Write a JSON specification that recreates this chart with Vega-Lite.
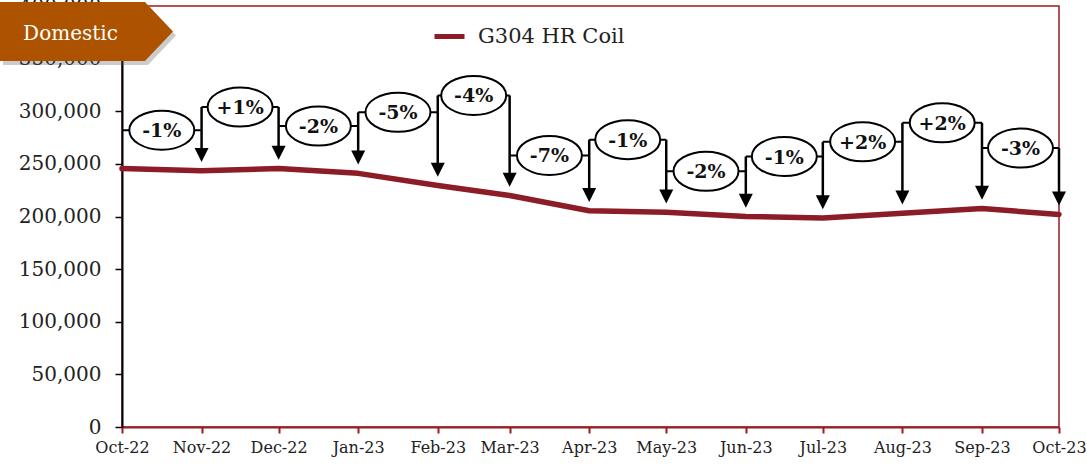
{
  "$schema": "https://vega.github.io/schema/vega-lite/v6.json",
  "autosize": {"type": "none"},
  "width": 937,
  "height": 421,
  "padding": {"left": 122, "top": 6, "right": 28, "bottom": 39},
  "background": "white",
  "config": {
    "view": {"stroke": "#9B1B22", "strokeWidth": 1.5},
    "font": "DejaVu Serif"
  },
  "datasets": {
    "series": [
      {"month": "2022-10-01T00:00:00Z", "value": 245500, "series": "G304 HR Coil"},
      {"month": "2022-11-01T00:00:00Z", "value": 243500, "series": "G304 HR Coil"},
      {"month": "2022-12-01T00:00:00Z", "value": 245500, "series": "G304 HR Coil"},
      {"month": "2023-01-01T00:00:00Z", "value": 241000, "series": "G304 HR Coil"},
      {"month": "2023-02-01T00:00:00Z", "value": 229500, "series": "G304 HR Coil"},
      {"month": "2023-03-01T00:00:00Z", "value": 220000, "series": "G304 HR Coil"},
      {"month": "2023-04-01T00:00:00Z", "value": 205500, "series": "G304 HR Coil"},
      {"month": "2023-05-01T00:00:00Z", "value": 204000, "series": "G304 HR Coil"},
      {"month": "2023-06-01T00:00:00Z", "value": 200000, "series": "G304 HR Coil"},
      {"month": "2023-07-01T00:00:00Z", "value": 198500, "series": "G304 HR Coil"},
      {"month": "2023-08-01T00:00:00Z", "value": 203000, "series": "G304 HR Coil"},
      {"month": "2023-09-01T00:00:00Z", "value": 207500, "series": "G304 HR Coil"},
      {"month": "2023-10-01T00:00:00Z", "value": 202000, "series": "G304 HR Coil"}
    ],
    "brackets": [
      {"start": "2022-10-01T00:00:00Z", "end": "2022-11-01T00:00:00Z", "mid": "2022-10-16T12:00:00Z", "level": 282000, "label": "-1%"},
      {"start": "2022-11-01T00:00:00Z", "end": "2022-12-01T00:00:00Z", "mid": "2022-11-16T00:00:00Z", "level": 304000, "label": "+1%"},
      {"start": "2022-12-01T00:00:00Z", "end": "2023-01-01T00:00:00Z", "mid": "2022-12-16T12:00:00Z", "level": 286000, "label": "-2%"},
      {"start": "2023-01-01T00:00:00Z", "end": "2023-02-01T00:00:00Z", "mid": "2023-01-16T12:00:00Z", "level": 299000, "label": "-5%"},
      {"start": "2023-02-01T00:00:00Z", "end": "2023-03-01T00:00:00Z", "mid": "2023-02-15T00:00:00Z", "level": 315000, "label": "-4%"},
      {"start": "2023-03-01T00:00:00Z", "end": "2023-04-01T00:00:00Z", "mid": "2023-03-16T12:00:00Z", "level": 258000, "label": "-7%"},
      {"start": "2023-04-01T00:00:00Z", "end": "2023-05-01T00:00:00Z", "mid": "2023-04-16T00:00:00Z", "level": 273000, "label": "-1%"},
      {"start": "2023-05-01T00:00:00Z", "end": "2023-06-01T00:00:00Z", "mid": "2023-05-16T12:00:00Z", "level": 243000, "label": "-2%"},
      {"start": "2023-06-01T00:00:00Z", "end": "2023-07-01T00:00:00Z", "mid": "2023-06-16T00:00:00Z", "level": 257000, "label": "-1%"},
      {"start": "2023-07-01T00:00:00Z", "end": "2023-08-01T00:00:00Z", "mid": "2023-07-16T12:00:00Z", "level": 271000, "label": "+2%"},
      {"start": "2023-08-01T00:00:00Z", "end": "2023-09-01T00:00:00Z", "mid": "2023-08-16T12:00:00Z", "level": 289000, "label": "+2%"},
      {"start": "2023-09-01T00:00:00Z", "end": "2023-10-01T00:00:00Z", "mid": "2023-09-16T00:00:00Z", "level": 265000, "label": "-3%"}
    ],
    "arrows": [
      {"month": "2022-11-01T00:00:00Z", "top": 304000, "head": 258500},
      {"month": "2022-12-01T00:00:00Z", "top": 304000, "head": 260500},
      {"month": "2023-01-01T00:00:00Z", "top": 299000, "head": 256000},
      {"month": "2023-02-01T00:00:00Z", "top": 315000, "head": 244500},
      {"month": "2023-03-01T00:00:00Z", "top": 315000, "head": 235000},
      {"month": "2023-04-01T00:00:00Z", "top": 273000, "head": 220500},
      {"month": "2023-05-01T00:00:00Z", "top": 273000, "head": 219000},
      {"month": "2023-06-01T00:00:00Z", "top": 257000, "head": 215000},
      {"month": "2023-07-01T00:00:00Z", "top": 271000, "head": 213500},
      {"month": "2023-08-01T00:00:00Z", "top": 289000, "head": 218000},
      {"month": "2023-09-01T00:00:00Z", "top": 289000, "head": 222500},
      {"month": "2023-10-01T00:00:00Z", "top": 265000, "head": 217000}
    ],
    "badge": [
      {"month": "2022-09-17T04:00:00Z", "value": 375700, "label": "Domestic"}
    ]
  },
  "layer": [
    {
      "data": {"name": "series"},
      "mark": {"type": "line", "strokeWidth": 5.5, "strokeCap": "round", "strokeJoin": "round"},
      "encoding": {
        "x": {
          "field": "month", "type": "temporal",
          "scale": {"type": "utc", "domain": [{"year": 2022, "month": 10, "date": 1, "utc": true}, {"year": 2023, "month": 10, "date": 1, "utc": true}], "nice": false},
          "axis": {
            "title": null,
            "values": [
              {"year": 2022, "month": 10, "date": 1, "utc": true},
              {"year": 2022, "month": 11, "date": 1, "utc": true},
              {"year": 2022, "month": 12, "date": 1, "utc": true},
              {"year": 2023, "month": 1, "date": 1, "utc": true},
              {"year": 2023, "month": 2, "date": 1, "utc": true},
              {"year": 2023, "month": 3, "date": 1, "utc": true},
              {"year": 2023, "month": 4, "date": 1, "utc": true},
              {"year": 2023, "month": 5, "date": 1, "utc": true},
              {"year": 2023, "month": 6, "date": 1, "utc": true},
              {"year": 2023, "month": 7, "date": 1, "utc": true},
              {"year": 2023, "month": 8, "date": 1, "utc": true},
              {"year": 2023, "month": 9, "date": 1, "utc": true},
              {"year": 2023, "month": 10, "date": 1, "utc": true}
            ],
            "labelExpr": "utcFormat(datum.value, '%b-%y')",
            "grid": false,
            "domainColor": "#9B1B22", "domainWidth": 2,
            "tickColor": "#9B1B22", "tickWidth": 2, "tickSize": 6,
            "labelFont": "DejaVu Serif", "labelFontSize": 16, "labelColor": "#222222",
            "labelPadding": 6, "labelFlush": false, "labelOverlap": false
          }
        },
        "y": {
          "field": "value", "type": "quantitative",
          "scale": {"domain": [0, 400000], "nice": false},
          "axis": {
            "title": null,
            "values": [0, 50000, 100000, 150000, 200000, 250000, 300000, 350000, 400000],
            "labelExpr": "format(datum.value, ',')",
            "grid": false,
            "domainColor": "#000000", "domainWidth": 2,
            "tickColor": "#000000", "tickWidth": 1.5, "tickSize": 7,
            "labelFont": "DejaVu Serif", "labelFontSize": 20, "labelColor": "#222222",
            "labelPadding": 14, "labelFlush": false, "labelOverlap": false
          }
        },
        "color": {
          "field": "series", "type": "nominal",
          "scale": {"range": ["#8C1C26"]},
          "legend": {
            "title": null, "orient": "none", "legendX": 310, "legendY": 13,
            "symbolType": "stroke", "symbolSize": 900, "symbolStrokeWidth": 5,
            "labelFont": "DejaVu Serif", "labelFontSize": 21, "labelColor": "#222222",
            "labelOffset": 11, "padding": 0
          }
        }
      }
    },
    {
      "data": {"name": "brackets"},
      "mark": {"type": "rule", "color": "#000000", "strokeWidth": 2},
      "encoding": {
        "x": {"field": "start", "type": "temporal"},
        "x2": {"field": "end"},
        "y": {"field": "level", "type": "quantitative"}
      }
    },
    {
      "data": {"name": "arrows"},
      "mark": {"type": "rule", "color": "#000000", "strokeWidth": 2.5},
      "encoding": {
        "x": {"field": "month", "type": "temporal"},
        "y": {"field": "top", "type": "quantitative"},
        "y2": {"field": "head"}
      }
    },
    {
      "data": {"name": "arrows"},
      "mark": {"type": "point", "shape": "M-1,-1L1,-1L0,1Z", "size": 196, "filled": true, "color": "#000000", "opacity": 1},
      "encoding": {
        "x": {"field": "month", "type": "temporal"},
        "y": {"field": "head", "type": "quantitative"}
      }
    },
    {
      "data": {"name": "brackets"},
      "mark": {"type": "point", "shape": "M-1,0A1,0.6 0 1,1 1,0A1,0.6 0 1,1 -1,0Z", "size": 4225, "filled": true, "fill": "#ffffff", "stroke": "#000000", "strokeWidth": 2, "opacity": 1},
      "encoding": {
        "x": {"field": "mid", "type": "temporal"},
        "y": {"field": "level", "type": "quantitative"}
      }
    },
    {
      "data": {"name": "brackets"},
      "mark": {"type": "text", "font": "DejaVu Serif", "fontSize": 19, "fontWeight": "bold", "color": "#111111", "align": "center", "baseline": "middle", "dy": 1},
      "encoding": {
        "x": {"field": "mid", "type": "temporal"},
        "y": {"field": "level", "type": "quantitative"},
        "text": {"field": "label"}
      }
    },
    {
      "data": {"name": "badge"},
      "mark": {"type": "point", "shape": "M-1,-0.341L0.676,-0.341L1,0L0.676,0.341L-1,0.341Z", "size": 29929, "filled": true, "color": "#555555", "opacity": 0.3, "xOffset": 3, "yOffset": 4},
      "encoding": {
        "x": {"field": "month", "type": "temporal"},
        "y": {"field": "value", "type": "quantitative"}
      }
    },
    {
      "data": {"name": "badge"},
      "mark": {"type": "point", "shape": "M-1,-0.341L0.676,-0.341L1,0L0.676,0.341L-1,0.341Z", "size": 29929, "filled": true, "color": "#AD5300", "opacity": 1},
      "encoding": {
        "x": {"field": "month", "type": "temporal"},
        "y": {"field": "value", "type": "quantitative"}
      }
    },
    {
      "data": {"name": "badge"},
      "mark": {"type": "text", "font": "DejaVu Serif", "fontSize": 20, "color": "#ffffff", "align": "center", "baseline": "middle", "dx": -16, "dy": 2},
      "encoding": {
        "x": {"field": "month", "type": "temporal"},
        "y": {"field": "value", "type": "quantitative"},
        "text": {"field": "label"}
      }
    }
  ]
}
